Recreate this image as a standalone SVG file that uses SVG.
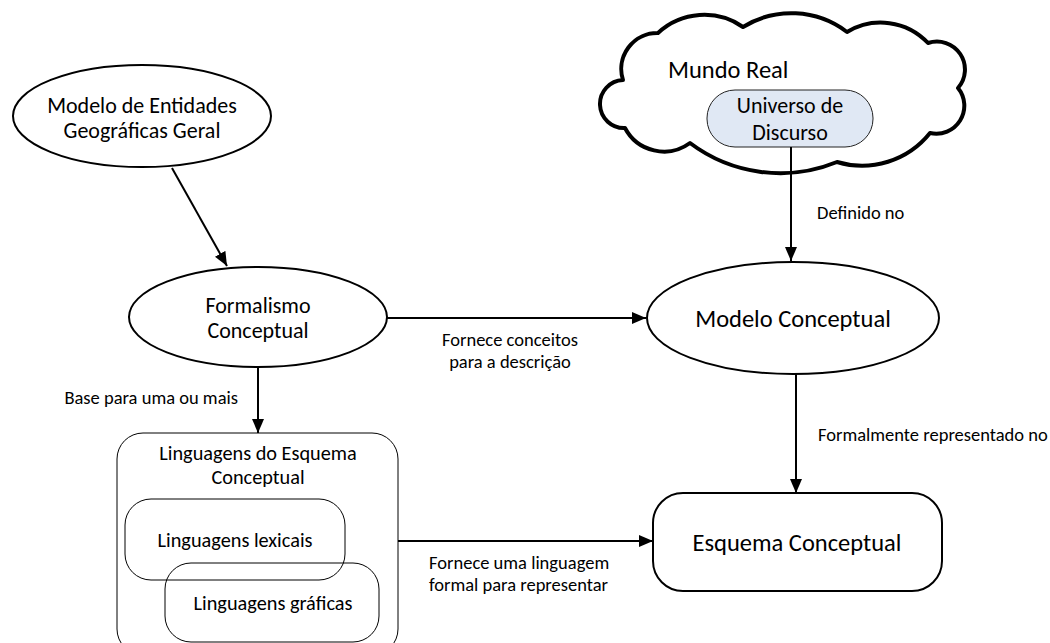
<svg xmlns="http://www.w3.org/2000/svg" width="1050" height="643" viewBox="0 0 1050 643">
  <defs>
    <style>
      text { font-family: Carlito, Lato, "Liberation Sans", sans-serif; fill: #000; }
      .lbl { font-size: 22px; text-anchor: middle; }
      .big { font-size: 24.5px; text-anchor: middle; }
      .sub { font-size: 20.3px; text-anchor: middle; }
      .edge { font-size: 18.5px; }
      .shape { fill: #fff; stroke: #000; stroke-width: 2; }
      .thin { fill: none; stroke: #000; stroke-width: 1; }
      .conn { fill: none; stroke: #000; stroke-width: 2; marker-end: url(#arrow); }
    </style>
    <marker id="arrow" markerUnits="userSpaceOnUse" markerWidth="14" markerHeight="12" refX="14" refY="6" orient="auto">
      <path d="M0,0 L14,6 L0,12 z" fill="#000"/>
    </marker>
  </defs>

  <rect width="1050" height="643" fill="#fff"/>

  <!-- Real world cloud with the universe of discourse inside -->
  <g id="mundo-real">
    <path d="M623,80 A36,36 0 0 1 658,33 A68,68 0 0 1 743,27 A92,92 0 0 1 847,32 A65,65 0 0 1 928,43 A28,28 0 0 1 958,88 A28,28 0 0 1 930,133 A87,87 0 0 1 837,162 A150,150 0 0 1 690,143 A44,44 0 0 1 625,128 A24,24 0 0 1 623,80 Z" fill="#fff" stroke="#000" stroke-width="4" stroke-linejoin="round"/>
    <text x="668" y="78" style="font-size:24.5px">Mundo Real</text>
  </g>
  <g id="universo-discurso">
    <rect x="707" y="90" width="166" height="57" rx="28" ry="28" fill="#e0e8f4" stroke="#222" stroke-width="1"/>
    <text class="lbl" x="790" y="113">Universo de</text>
    <text class="lbl" x="790" y="140">Discurso</text>
  </g>

  <g id="modelo-entidades">
    <ellipse class="shape" cx="142" cy="116" rx="129" ry="51"/>
    <text class="lbl" x="142" y="113">Modelo de Entidades</text>
    <text class="lbl" x="142" y="138">Geográficas Geral</text>
  </g>

  <g id="formalismo">
    <ellipse class="shape" cx="258" cy="317" rx="129" ry="50"/>
    <text class="lbl" x="258" y="313">Formalismo</text>
    <text class="lbl" x="258" y="338">Conceptual</text>
  </g>

  <g id="modelo-conceptual">
    <ellipse class="shape" cx="793" cy="318" rx="146" ry="56"/>
    <text class="big" x="793" y="327">Modelo Conceptual</text>
  </g>

  <g id="linguagens">
    <rect x="117" y="433" width="281" height="222" rx="26" ry="26" class="thin"/>
    <text class="sub" x="258" y="460">Linguagens do Esquema</text>
    <text class="sub" x="258" y="484">Conceptual</text>
    <rect x="125" y="499" width="220" height="81" rx="26" ry="26" class="thin"/>
    <text class="sub" x="235" y="547">Linguagens lexicais</text>
    <rect x="165" y="563" width="214" height="79" rx="26" ry="26" class="thin"/>
    <text class="sub" x="273" y="610">Linguagens gráficas</text>
  </g>

  <g id="esquema-conceptual">
    <rect x="653" y="493" width="289" height="98" rx="30" ry="30" class="shape"/>
    <text class="big" x="797" y="551">Esquema Conceptual</text>
  </g>

  <g id="connectors">
    <line class="conn" x1="172" y1="168" x2="227" y2="266"/>
    <line class="conn" x1="387" y1="318" x2="646" y2="318"/>
    <line class="conn" x1="791" y1="147" x2="791" y2="261"/>
    <line class="conn" x1="258" y1="367" x2="258" y2="433"/>
    <line class="conn" x1="796" y1="374" x2="796" y2="493"/>
    <line class="conn" x1="398" y1="541" x2="653" y2="541"/>

    <text class="edge" x="817" y="219">Definido no</text>
    <text class="edge" x="510" y="346" text-anchor="middle">Fornece conceitos</text>
    <text class="edge" x="510" y="368" text-anchor="middle">para a descrição</text>
    <text class="edge" x="238" y="404" text-anchor="end">Base para uma ou mais</text>
    <text class="edge" x="818" y="441">Formalmente representado no</text>
    <text class="edge" x="429" y="569">Fornece uma linguagem</text>
    <text class="edge" x="429" y="591">formal para representar</text>
  </g>
</svg>
